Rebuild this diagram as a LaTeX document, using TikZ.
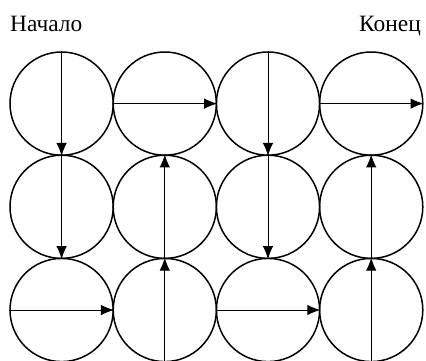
\documentclass[tikz,border=0pt]{standalone}
\usepackage{fontspec}
\setmainfont{Liberation Serif}
\usetikzlibrary{arrows.meta}
\tikzset{
  cell/.style={circle, draw, line width=1.5bp, minimum size=103.2bp, inner sep=0pt},
  move/.style={line width=1bp, -{Latex[length=13bp,width=10.5bp]}},
  caption/.style={font=\fontsize{23.5}{28}\selectfont, inner sep=0pt}
}
\begin{document}
\begin{tikzpicture}[x=1bp, y=-1bp]
  \useasboundingbox (0,0) rectangle (426,361);
  % 4 x 3 grid of cells
  \foreach \r/\yy in {1/103.6, 2/206.8, 3/310} {
    \foreach \c/\xx in {1/61.6, 2/164.8, 3/268, 4/371.2} {
      \node[cell] (c\r\c) at (\xx,\yy) {};
    }
  }
  % labels
  \node[caption, anchor=base west] (start) at (10,31.5) {Начало};
  \node[caption, anchor=base east] (finish) at (421,31.5) {Конец};
  % row 1
  \draw[move] (c11.north) -- (c11.south);
  \draw[move] (c12.west) -- (c12.east);
  \draw[move] (c13.north) -- (c13.south);
  \draw[move] (c14.west) -- (c14.east);
  % row 2
  \draw[move] (c21.north) -- (c21.south);
  \draw[move] (c22.south) -- (c22.north);
  \draw[move] (c23.north) -- (c23.south);
  \draw[move] (c24.south) -- (c24.north);
  % row 3
  \draw[move] (c31.west) -- (c31.east);
  \draw[move] (c32.south) -- (c32.north);
  \draw[move] (c33.west) -- (c33.east);
  \draw[move] (c34.south) -- (c34.north);
\end{tikzpicture}
\end{document}
